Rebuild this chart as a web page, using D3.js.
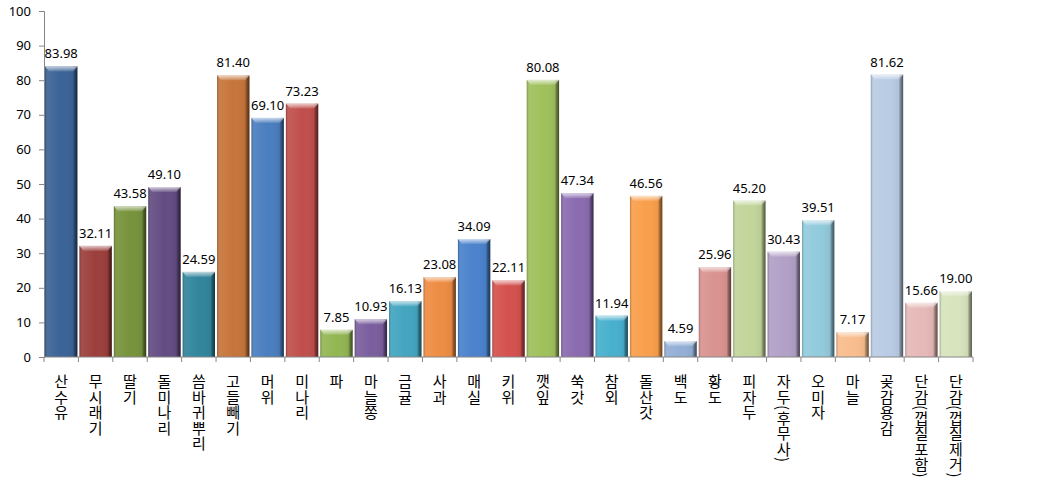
<!DOCTYPE html>
<html>
<head>
<meta charset="utf-8">
<script src="https://cdn.jsdelivr.net/npm/d3@7"></script>
<style>
  body { margin: 0; background: #fff; }
  .tick text { font-family: "Noto Sans", sans-serif; font-size: 13px; fill: #000; }
  .value-label { font-family: "Noto Sans", sans-serif; font-size: 13px; fill: #000; }
  .cat-label { font-family: "Noto Sans CJK KR", sans-serif; font-size: 15px; letter-spacing: 0.5px; fill: #000; writing-mode: vertical-rl; }
</style>
</head>
<body>
<div id="wrapper"></div>
<script>
// data
const categories = ["산수유", "무시래기", "딸기", "돌미나리", "씀바귀뿌리", "고들빼기", "머위", "미나리", "파",
  "마늘쫑", "금귤", "사과", "매실", "키위", "깻잎", "쑥갓", "참외", "돌산갓", "백도", "황도", "피자두",
  "자두(후무사)", "오미자", "마늘", "곶감용감", "단감(껍질포함)", "단감(껍질제거)"]
const values = [83.98, 32.11, 43.58, 49.10, 24.59, 81.40, 69.10, 73.23, 7.85, 10.93, 16.13, 23.08, 34.09,
  22.11, 80.08, 47.34, 11.94, 46.56, 4.59, 25.96, 45.20, 30.43, 39.51, 7.17, 81.62, 15.66, 19.00]
const barColors = ["#3b6397", "#9c3f3c", "#77933c", "#634c82", "#31859c", "#c6753a",
  "#4a7ebf", "#c04f4c", "#93b653", "#7a5e9e", "#43a5c0", "#ee8c43",
  "#4a82cc", "#d4514e", "#a0c05c", "#8a6bb0", "#47b0cd", "#f99f4b",
  "#93afd6", "#d99390", "#c2d59a", "#b2a0c7", "#92cbdc", "#f9bd8d",
  "#b9cce4", "#e6b9b8", "#d7e4bd"]
const yTicks = [0, 10, 20, 30, 40, 50, 60, 70, 80, 90, 100]

const dimensions = {
  width: 1061,
  height: 489,
  margin: { top: 11, right: 88, bottom: 132, left: 44 },
}
dimensions.boundedWidth = dimensions.width - dimensions.margin.left - dimensions.margin.right
dimensions.boundedHeight = dimensions.height - dimensions.margin.top - dimensions.margin.bottom

const svg = d3.select("#wrapper")
  .append("svg")
  .attr("width", dimensions.width)
  .attr("height", dimensions.height)

const defs = svg.append("defs")

// horizontal shading to fake the bevelled 3D look
const shade = defs.append("linearGradient").attr("id", "bar-shade")
shade.selectAll("stop")
  .data([
    { o: "0%", c: "#000", a: 0.25 },
    { o: "8%", c: "#fff", a: 0.08 },
    { o: "50%", c: "#fff", a: 0.0 },
    { o: "86%", c: "#000", a: 0.05 },
    { o: "92%", c: "#000", a: 0.35 },
    { o: "100%", c: "#000", a: 0.6 },
  ])
  .join("stop")
  .attr("offset", d => d.o)
  .attr("stop-color", d => d.c)
  .attr("stop-opacity", d => d.a)

const capShade = defs.append("linearGradient")
  .attr("id", "cap-shade")
  .attr("x1", 0).attr("x2", 0).attr("y1", 0).attr("y2", 1)
capShade.append("stop").attr("offset", "0%").attr("stop-color", "#fff").attr("stop-opacity", 0.7)
capShade.append("stop").attr("offset", "100%").attr("stop-color", "#fff").attr("stop-opacity", 0.1)

const bounds = svg.append("g")
  .attr("transform", `translate(${dimensions.margin.left},${dimensions.margin.top})`)

// scales
const xScale = d3.scaleBand()
  .domain(categories)
  .range([0, dimensions.boundedWidth])
  .paddingInner(0.06)
  .paddingOuter(0.03)

const yScale = d3.scaleLinear()
  .domain([0, 100])
  .range([dimensions.boundedHeight, 0])

// bars
const barGroups = bounds.append("g")
  .selectAll("g")
  .data(categories)
  .join("g")
  .attr("transform", d => `translate(${xScale(d)},0)`)

barGroups.append("rect")
  .attr("y", (d, i) => yScale(values[i]))
  .attr("width", xScale.bandwidth())
  .attr("height", (d, i) => yScale(0) - yScale(values[i]))
  .attr("fill", (d, i) => barColors[i])

barGroups.append("rect")
  .attr("y", (d, i) => yScale(values[i]))
  .attr("width", xScale.bandwidth())
  .attr("height", (d, i) => yScale(0) - yScale(values[i]))
  .attr("fill", "url(#bar-shade)")

// top bevel
barGroups.append("path")
  .attr("d", (d, i) => {
    const y = yScale(values[i])
    const w = xScale.bandwidth()
    return `M0,${y} L${w},${y} L${w - 4},${y + 5} L4,${y + 5} Z`
  })
  .attr("fill", "url(#cap-shade)")

// value labels
bounds.append("g")
  .selectAll("text")
  .data(categories)
  .join("text")
  .attr("class", "value-label")
  .attr("x", d => xScale(d) + xScale.bandwidth() / 2)
  .attr("y", (d, i) => yScale(values[i]) - 8)
  .attr("text-anchor", "middle")
  .text((d, i) => values[i].toFixed(2))

// axes
const yAxis = bounds.append("g")
  .call(d3.axisLeft(yScale).tickValues(yTicks).tickSize(5).tickPadding(8))
yAxis.select(".domain").attr("stroke", "#868686")
yAxis.selectAll(".tick line").attr("stroke", "#868686")

const edgeScale = d3.scaleLinear()
  .domain([0, categories.length])
  .range([0, dimensions.boundedWidth])

const xAxis = bounds.append("g")
  .attr("transform", `translate(0,${dimensions.boundedHeight})`)
xAxis.append("line")
  .attr("x1", 0)
  .attr("x2", dimensions.boundedWidth)
  .attr("stroke", "#868686")
xAxis.selectAll(".x-tick")
  .data(d3.range(categories.length + 1))
  .join("line")
  .attr("class", "x-tick")
  .attr("x1", d => edgeScale(d))
  .attr("x2", d => edgeScale(d))
  .attr("y1", 0)
  .attr("y2", 5)
  .attr("stroke", "#868686")

xAxis.selectAll(".cat-label")
  .data(categories)
  .join("text")
  .attr("class", "cat-label")
  .attr("x", d => xScale(d) + xScale.bandwidth() / 2)
  .attr("y", 17)
  .text(d => d)
</script>
</body>
</html>
